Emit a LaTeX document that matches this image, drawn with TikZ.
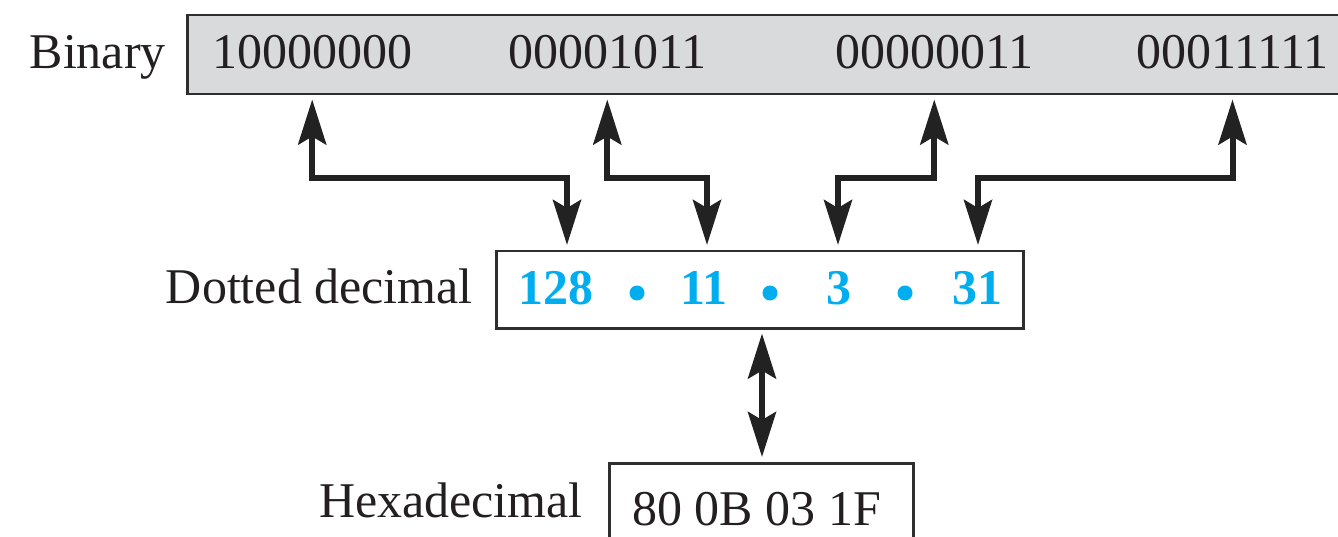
\documentclass[tikz,border=0pt]{standalone}
\usepackage{fontspec}
\setmainfont{Liberation Serif}
\usetikzlibrary{arrows.meta}
\definecolor{binfill}{HTML}{D9DADC}
\definecolor{boxline}{HTML}{2E2E2E}
\definecolor{arrowc}{HTML}{222222}
\definecolor{ipblue}{HTML}{00AEEF}
\definecolor{ink}{HTML}{231F20}
\tikzset{
  txt/.style={font=\fontsize{50}{60}\selectfont, inner sep=0pt, text=ink},
  lbl/.style={txt, anchor=base east},
  val/.style={txt, anchor=base west},
  num/.style={font=\fontsize{50}{60}\selectfont\bfseries, inner sep=0pt, text=ipblue, anchor=base west},
  sep/.style={circle, fill=ipblue, inner sep=0pt, minimum size=15pt},
  frame/.style={draw=boxline, line width=2.5pt, inner sep=0pt, anchor=north west},
  conn/.style={draw=arrowc, line width=6pt, line join=miter,
    {Stealth[length=45pt, width=28pt, inset=8pt]}-{Stealth[length=45pt, width=28pt, inset=8pt]},
    shorten <=4pt, shorten >=5pt}
}
\begin{document}
\begin{tikzpicture}[x=1pt,y=-1pt]
\useasboundingbox (0,0) rectangle (1338,537);
% boxes
\node[frame, fill=binfill, minimum width=1170pt, minimum height=79pt] (bin) at (186,14) {};
\node[frame, fill=white, minimum width=527pt, minimum height=77pt] (dd) at (495,250) {};
\node[frame, fill=white, minimum width=304pt, minimum height=110pt] (hex) at (608,462) {};
% labels
\node[lbl] (lbin) at (166,69) {Binary};
\node[lbl] (ldd) at (473,303) {Dotted decimal};
\node[lbl] (lhex) at (583,517) {Hexadecimal};
% binary bytes
\node[val] (b1) at (212,69) {10000000};
\node[val] (b2) at (508,69) {00001011};
\node[val] (b3) at (835,69) {00000011};
\node[val] (b4) at (1136,69) {00011111};
% dotted decimal
\node[num] (n1) at (518,305) {128};
\node[num] (n2) at (680,305) {11};
\node[num] (n3) at (826,305) {3};
\node[num] (n4) at (952,305) {31};
\node[sep] (s1) at (637,293) {};
\node[sep] (s2) at (770,293) {};
\node[sep] (s3) at (905,293) {};
% hex value
\node[val] (hv) at (632,525) {80 0B 03 1F};
% connection points on dotted box top
\coordinate (d1) at (567,250);
\coordinate (d2) at (707,250);
\coordinate (d3) at (838,250);
\coordinate (d4) at (978,250);
\coordinate (hx) at (762,462);
% connectors
\draw[conn] (bin.south -| b1) -- ++(0,83) -| (d1);
\draw[conn] (bin.south -| b2) -- ++(0,83) -| (d2);
\draw[conn] (bin.south -| b3) -- ++(0,83) -| (d3);
\draw[conn] (bin.south -| b4) -- ++(0,83) -| (d4);
\draw[conn] (dd.south -| hx) -- (hx);
\end{tikzpicture}
\end{document}
